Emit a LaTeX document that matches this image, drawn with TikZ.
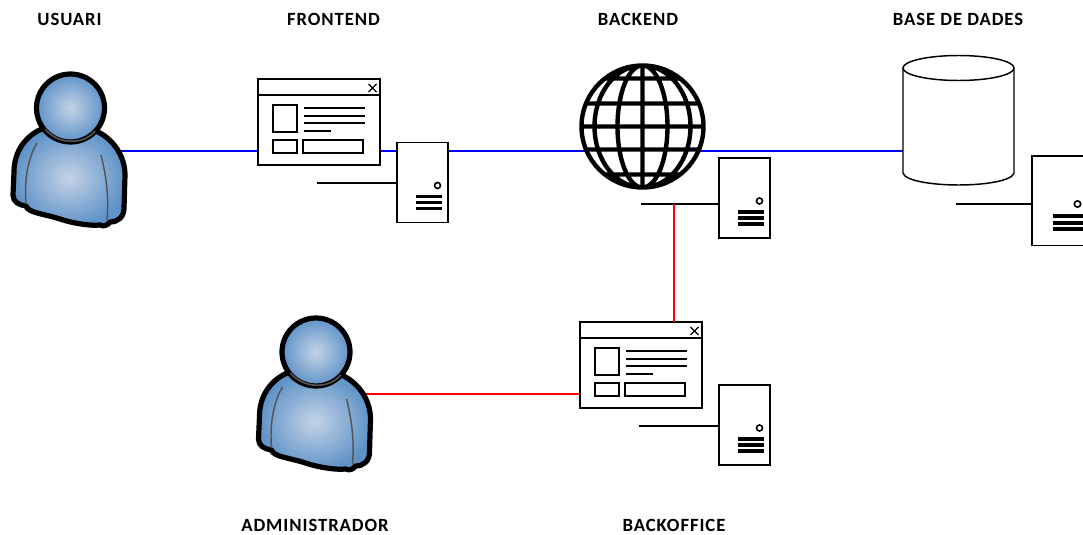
\documentclass[tikz,border=0pt]{standalone}
\usepackage{fontspec}
\setmainfont{Carlito}
\newfontfamily\titlefont[LetterSpace=5.0]{Carlito}
\pgfdeclarelayer{bg}
\pgfsetlayers{bg,main}
\definecolor{personlight}{HTML}{C4D3E6}
\definecolor{personblue}{HTML}{5F93C8}
\definecolor{seam}{HTML}{555555}
\tikzset{
  x=0.75pt,y=-0.75pt,
  thinline/.style={draw=black,line width=1.1pt},
  bluelink/.style={draw=blue,line width=1.4pt},
  redlink/.style={draw=red,line width=1.4pt},
  stub/.style={draw=black,line width=1.2pt},
  title/.style={font=\titlefont\bfseries\fontsize{14}{16}\selectfont,inner sep=0pt},
  personpic/.pic={
    \shadedraw[inner color=personlight,outer color=personblue,draw=black,line width=3.9pt,line join=round]
      (44,128) .. controls (26,135) and (14,151) .. (14,172)
      -- (13,195) .. controls (13,202) and (19,205) .. (26,206)
      .. controls (28,213) and (45,214) .. (60,219)
      .. controls (75,224) and (92,226) .. (100,225)
      .. controls (104,227) and (108,225) .. (110,222)
      .. controls (118,222) and (124,217) .. (124,208)
      -- (125,175) .. controls (125,155) and (112,138) .. (96,131) -- cycle;
    \draw[seam,line width=1.1pt] (37,143) .. controls (28,158) and (24,180) .. (26,204);
    \draw[seam,line width=1.1pt] (101,155) .. controls (106,175) and (109,195) .. (107,220);
    \shadedraw[inner color=personlight,outer color=personblue,draw=black,line width=3.9pt]
      (70.5,108) circle [radius=34];
    \draw[seam,line width=1.2pt] (45,129) .. controls (58,145) and (84,145) .. (95,131);
    \coordinate (-east) at (110,151);
  },
  winpic/.pic={
    \draw[thinline,fill=white] (0,0) rectangle (122,86);
    \draw[thinline] (0,16) -- (122,16);
    \draw[thinline] (15,26) rectangle (39,53);
    \draw[thinline,line width=1pt] (46,29) -- (107,29) (46,37) -- (107,37) (46,44) -- (107,44) (46,52) -- (73,52);
    \draw[thinline] (15,61) rectangle (39,74);
    \draw[thinline] (45,61) rectangle (105,74);
    \draw[thinline,line width=1pt] (110.5,5) -- (118.5,13) (118.5,5) -- (110.5,13);
    \coordinate (-west) at (0,72);
    \coordinate (-east) at (122,72);
    \coordinate (-north) at (61,0);
  },
  srvpic/.pic={
    \draw[thinline,fill=white] (0,0) rectangle (51,80);
    \draw[black,line width=1.2pt] (40.5,43) circle [radius=3];
    \draw[black,line width=2.7pt] (19,54) -- (45,54) (19,60) -- (45,60) (19,66) -- (45,66);
    \coordinate (-west) at (0,40);
    \coordinate (-east) at (51,40);
  },
  srvbigpic/.pic={
    \draw[thinline,fill=white] (0,0) rectangle (57,89.5);
    \draw[black,line width=1.2pt] (45.5,48) circle [radius=3.2];
    \draw[black,line width=2.7pt] (21,60) -- (51,60) (21,67) -- (51,67) (21,73) -- (51,73);
    \coordinate (-west) at (0,48);
  },
  globepic/.pic={
    \fill[white] (0,0) circle [radius=61];
    \begin{scope}
      \clip (0,0) circle [radius=61];
      \draw[black,line width=3.3pt]
        (-70,-48) -- (70,-48) (-70,-23) -- (70,-23) (-70,0) -- (70,0)
        (-70,23) -- (70,23) (-70,48) -- (70,48)
        (0,-70) -- (0,70)
        (0,0) ellipse [x radius=25,y radius=61]
        (0,0) ellipse [x radius=48,y radius=61];
    \end{scope}
    \draw[black,line width=3.3pt] (0,0) circle [radius=61];
    \coordinate (-west) at (-50,24);
    \coordinate (-east) at (50,24);
  },
  cylpic/.pic={
    \draw[thinline,fill=white] (0,0) -- (0,105) .. controls (2,113) and (30,117) .. (55.5,117)
      .. controls (81,117) and (109,113) .. (111,105) -- (111,0);
    \draw[thinline,fill=white] (55.5,0) ellipse [x radius=55.5,y radius=12.5];
    \coordinate (-west) at (0,83);
  },
}
\begin{document}
\begin{tikzpicture}
\useasboundingbox (0,0) rectangle (1083,535);
\begin{pgfonlayer}{bg}
  \fill[white] (0,0) rectangle (1083,535);
\end{pgfonlayer}

\node[title] (tusuari) at (69.5,19.5) {USUARI};
\node[title] (tfront) at (333.5,19.5) {FRONTEND};
\node[title] (tback) at (638,19.5) {BACKEND};
\node[title] (tdb) at (958,19.5) {BASE DE DADES};
\node[title] (tadm) at (315,525.5) {ADMINISTRADOR};
\node[title] (toff) at (674,525.5) {BACKOFFICE};

\pic (usr) at (0,0) {personpic};
\pic (adm) at (245.5,244) {personpic};
\pic (fe) at (258,79) {winpic};
\pic (bo) at (580,322) {winpic};
\pic (s1) at (397,142.5) {srvpic};
\pic (s2) at (719,158) {srvpic};
\pic (s4) at (719,385) {srvpic};
\pic (s3) at (1032,156) {srvbigpic};
\pic (glb) at (642.5,126.5) {globepic};
\pic (db) at (903,68) {cylpic};

\coordinate (c1) at (317,183);
\coordinate (c2) at (641,204);
\coordinate (c3) at (956,204);
\coordinate (c4) at (639,426);
\coordinate (join) at (674,204);

\begin{pgfonlayer}{bg}
  \draw[bluelink] (usr-east |- fe-west) -- (fe-west);
  \draw[bluelink] (fe-east) -- (s1-west |- fe-east);
  \draw[bluelink] (s1-east |- fe-east) -- (glb-west |- fe-east);
  \draw[bluelink] (glb-east |- fe-east) -- (db-west |- fe-east);
  \draw[redlink] (adm-east |- bo-west) -- (bo-west);
\end{pgfonlayer}
\draw[stub] (c1) -- (c1 -| s1-west);
\draw[stub] (c2) -- (c2 -| s2-west);
\draw[stub] (c3) -- (c3 -| s3-west);
\draw[stub] (c4) -- (c4 -| s4-west);
\draw[redlink] (join) -- (join |- bo-north);
\end{tikzpicture}
\end{document}
